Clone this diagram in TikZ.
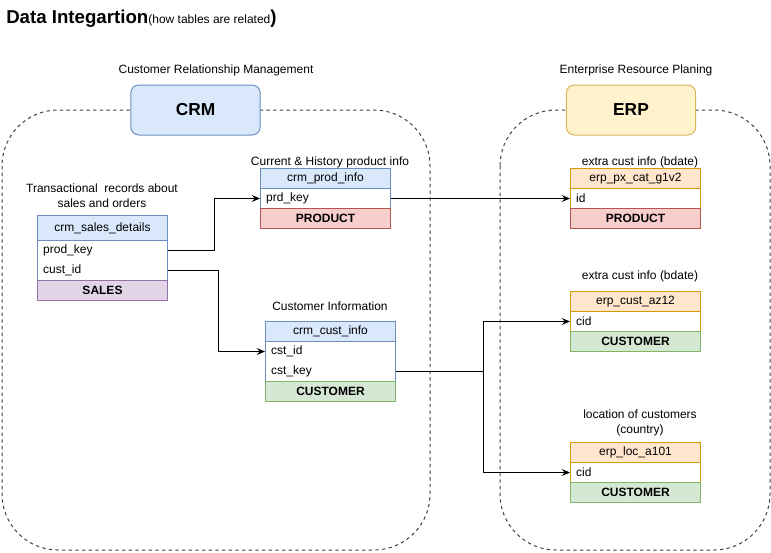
\documentclass[tikz,border=0pt]{standalone}
\usepackage{fontspec}
\setmainfont{Liberation Sans}
\usetikzlibrary{arrows.meta}

\definecolor{blueFill}{HTML}{DAE8FC}
\definecolor{blueLine}{HTML}{6C8EBF}
\definecolor{yellowFill}{HTML}{FFF2CC}
\definecolor{yellowLine}{HTML}{D6B656}
\definecolor{orangeFill}{HTML}{FFE6CC}
\definecolor{orangeLine}{HTML}{D79B00}
\definecolor{redFill}{HTML}{F8CECC}
\definecolor{redLine}{HTML}{B85450}
\definecolor{greenFill}{HTML}{D5E8D4}
\definecolor{greenLine}{HTML}{82B366}
\definecolor{purpleFill}{HTML}{E1D5E7}
\definecolor{purpleLine}{HTML}{9673A6}

\tikzset{
  cell/.style={draw, line width=0.75pt, minimum width=97.5pt, minimum height=15pt,
    inner sep=0pt, anchor=north west},
  field/.style={cell, draw=none, text width=89pt, inner xsep=4.25pt, align=left},
  frame/.style={draw=#1, line width=0.75pt, fill=white},
  foot/.style={cell, font=\fontsize{9}{11}\selectfont\bfseries},
  system/.style={draw, line width=0.75pt, rounded corners=6pt, minimum width=97pt,
    minimum height=37.5pt, font=\fontsize{13}{15}\selectfont\bfseries},
  realm/.style={draw=black!75, line width=0.75pt, dash pattern=on 2.5pt off 2.5pt,
    rounded corners=42pt},
  caption/.style={align=center, font=\fontsize{9}{11}\selectfont},
  link/.style={draw, line width=0.75pt, -{Stealth[length=6pt,width=5pt]}}
}

\begin{document}
\begin{tikzpicture}[x=0.75pt,y=-0.75pt,font=\fontsize{9}{11}\selectfont]
\useasboundingbox (0,0) rectangle (771,553);

\node[anchor=base west, inner sep=0pt] (title) at (6,23)
  {{\fontsize{14}{16}\selectfont\bfseries Data Integartion}(how tables are related{\fontsize{14}{16}\selectfont\bfseries )}};

\draw[realm] (2,110) rectangle (430,550);
\draw[realm] (500,110) rectangle (770,550);

\node[caption] (crm-cap) at (216,70) {Customer Relationship Management};
\node[system, fill=blueFill, draw=blueLine] (crm) at (195.5,110) {CRM};
\node[caption] (erp-cap) at (636,70) {Enterprise Resource Planing};
\node[system, fill=yellowFill, draw=yellowLine] (erp) at (631,110) {ERP};

\node[caption] (sales-cap) at (102,196) {Transactional\ \ records about\\sales and orders};
\node[cell, fill=blueFill, draw=blueLine, minimum height=18.75pt] (sales) at (37,215) {crm\_sales\_details};
\draw[frame=blueLine] (37,240) rectangle (167,280);
\node[field] (sales-prod) at (37,240) {prod\_key};
\node[field] (sales-cust) at (37,260) {cust\_id};
\node[foot, fill=purpleFill, draw=purpleLine] (sales-foot) at (37,280) {SALES};

\node[caption] (prod-cap) at (330,162) {Current \& History product info};
\node[cell, fill=blueFill, draw=blueLine] (prod) at (260,168) {crm\_prod\_info};
\draw[frame=blueLine] (260,188) rectangle (390,208);
\node[field] (prod-key) at (260,188) {prd\_key};
\node[foot, fill=redFill, draw=redLine] (prod-foot) at (260,208) {PRODUCT};

\node[caption] (cust-cap) at (330,306) {Customer Information};
\node[cell, fill=blueFill, draw=blueLine] (cust) at (265,321) {crm\_cust\_info};
\draw[frame=blueLine] (265,341) rectangle (395,381);
\node[field] (cust-id) at (265,341) {cst\_id};
\node[field] (cust-key) at (265,361) {cst\_key};
\node[foot, fill=greenFill, draw=greenLine] (cust-foot) at (265,381) {CUSTOMER};

\node[caption] (px-cap) at (640,162) {extra cust info (bdate)};
\node[cell, fill=orangeFill, draw=orangeLine] (px) at (570,168) {erp\_px\_cat\_g1v2};
\draw[frame=orangeLine] (570,188) rectangle (700,208);
\node[field] (px-id) at (570,188) {id};
\node[foot, fill=redFill, draw=redLine] (px-foot) at (570,208) {PRODUCT};

\node[caption] (az-cap) at (640,276) {extra cust info (bdate)};
\node[cell, fill=orangeFill, draw=orangeLine] (az) at (570,291) {erp\_cust\_az12};
\draw[frame=orangeLine] (570,311) rectangle (700,331);
\node[field] (az-cid) at (570,311) {cid};
\node[foot, fill=greenFill, draw=greenLine] (az-foot) at (570,331) {CUSTOMER};

\node[caption] (loc-cap) at (640,423) {location of customers\\(country)};
\node[cell, fill=orangeFill, draw=orangeLine] (loc) at (570,442) {erp\_loc\_a101};
\draw[frame=orangeLine] (570,462) rectangle (700,482);
\node[field] (loc-cid) at (570,462) {cid};
\node[foot, fill=greenFill, draw=greenLine] (loc-foot) at (570,482) {CUSTOMER};

\draw[link] (sales-prod.east) -- ++(46,0) |- (prod-key.west);
\draw[link] (sales-cust.east) -- ++(50,0) |- (cust-id.west);
\draw[link] (prod-key.east) -- (px-id.west);
\draw[line width=0.75pt] (cust-key.east) -- ++(87,0) coordinate(split);
\draw[link] (split) |- (az-cid.west);
\draw[link] (split) |- (loc-cid.west);
\end{tikzpicture}
\end{document}
